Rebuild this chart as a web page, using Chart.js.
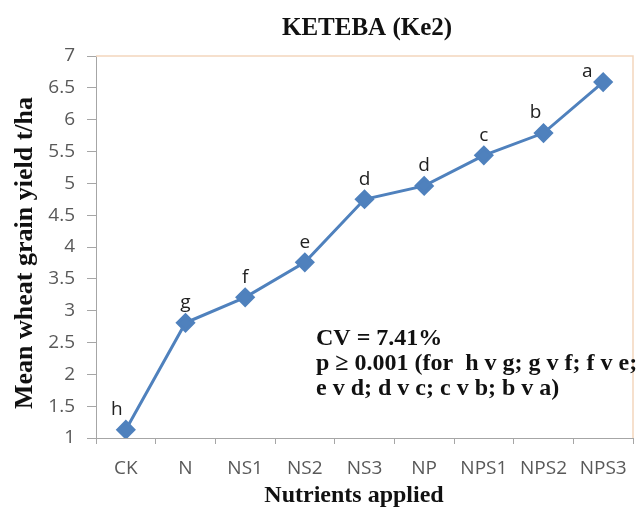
<!DOCTYPE html>
<html>
<head>
<meta charset="utf-8">
<script src="https://cdn.jsdelivr.net/npm/chart.js@4/dist/chart.umd.min.js"></script>
<style>
  body { margin: 0; background: #fff; }
  #wrap { width: 644px; height: 510px; }
</style>
</head>
<body>
<div id="wrap"><canvas id="yieldChart" width="644" height="510"></canvas></div>
<script>
const categories = ['CK', 'N', 'NS1', 'NS2', 'NS3', 'NP', 'NPS1', 'NPS2', 'NPS3'];
const meanYield = [1.13, 2.81, 3.21, 3.76, 4.75, 4.96, 5.44, 5.79, 6.59];
const letters = ['h', 'g', 'f', 'e', 'd', 'd', 'c', 'b', 'a'];
const noteLines = ['CV = 7.41%', 'p \u2265 0.001 (for  h v g; g v f; f v e;', 'e v d; d v c; c v b; b v a)'];

const serif = '"Liberation Serif", "DejaVu Serif", serif';
const sans = '"Open Sans", "Liberation Sans", sans-serif';

// titles, letters above the points, the CV note and the peach top/right border
const extras = {
    id: 'extras',
    afterDraw(chart) {
        const c = chart.ctx;
        const area = chart.chartArea;
        c.save();
        c.strokeStyle = '#f3d6bd';
        c.lineWidth = 1.5;
        c.beginPath();
        c.moveTo(area.left, area.top);
        c.lineTo(area.right, area.top);
        c.lineTo(area.right, area.bottom);
        c.stroke();

        c.fillStyle = '#111';
        c.textAlign = 'center';
        c.textBaseline = 'middle';
        c.font = 'bold 25px ' + serif;
        c.fillText('KETEBA (Ke2)', 367, 29);
        c.font = 'bold 24px ' + serif;
        c.fillText('Nutrients applied', 354, 496);

        c.save();
        c.translate(25, 253);
        c.rotate(-Math.PI / 2);
        c.font = 'bold 26px ' + serif;
        c.fillText('Mean wheat grain yield t/ha', 0, 0);
        c.restore();

        c.font = '19px ' + sans;
        c.fillStyle = '#222';
        const pts = chart.getDatasetMeta(0).data;
        pts.forEach((p, i) => {
            let dx = 0, dy = -20;
            if (i === 0) dx = -9;
            if (i === 7) dx = -8;
            if (i === 8) { dx = -16; dy = -11; }
            c.fillText(letters[i], p.x + dx, p.y + dy);
        });

        c.font = 'bold 24px ' + serif;
        c.textAlign = 'left';
        c.fillStyle = '#111';
        noteLines.forEach((t, i) => c.fillText(t, 316, 339 + i * 25));
        c.restore();
    }
};

new Chart(document.getElementById('yieldChart'), {
    type: 'line',
    data: {
        labels: categories,
        datasets: [{
            data: meanYield,
            borderColor: '#4f81bd',
            backgroundColor: '#4f81bd',
            borderWidth: 3,
            pointStyle: 'rectRot',
            pointRadius: 8,
            pointHoverRadius: 8,
            tension: 0
        }]
    },
    options: {
        responsive: false,
        animation: false,
        layout: { padding: { top: 56, right: 4, left: 0, bottom: 0 } },
        plugins: {
            legend: { display: false },
            tooltip: { enabled: false }
        },
        scales: {
            x: {
                offset: true,
                grid: { offset: true, drawOnChartArea: false, drawTicks: true, tickLength: 6, color: '#a6a6a6' },
                border: { display: true, color: '#a6a6a6' },
                ticks: { color: '#595959', font: { family: sans, size: 19 }, padding: 13, maxRotation: 0, autoSkip: false },
                afterFit(scale) { scale.height = 72; }
            },
            y: {
                min: 1,
                max: 7,
                ticks: { stepSize: 0.5, color: '#595959', font: { family: sans, size: 19 }, padding: 12, callback: v => String(v) },
                grid: { drawOnChartArea: false, drawTicks: true, tickLength: 9, color: '#a6a6a6' },
                border: { display: true, color: '#a6a6a6' },
                afterFit(scale) { scale.width = 96; }
            }
        }
    },
    plugins: [extras]
});
</script>
</body>
</html>
